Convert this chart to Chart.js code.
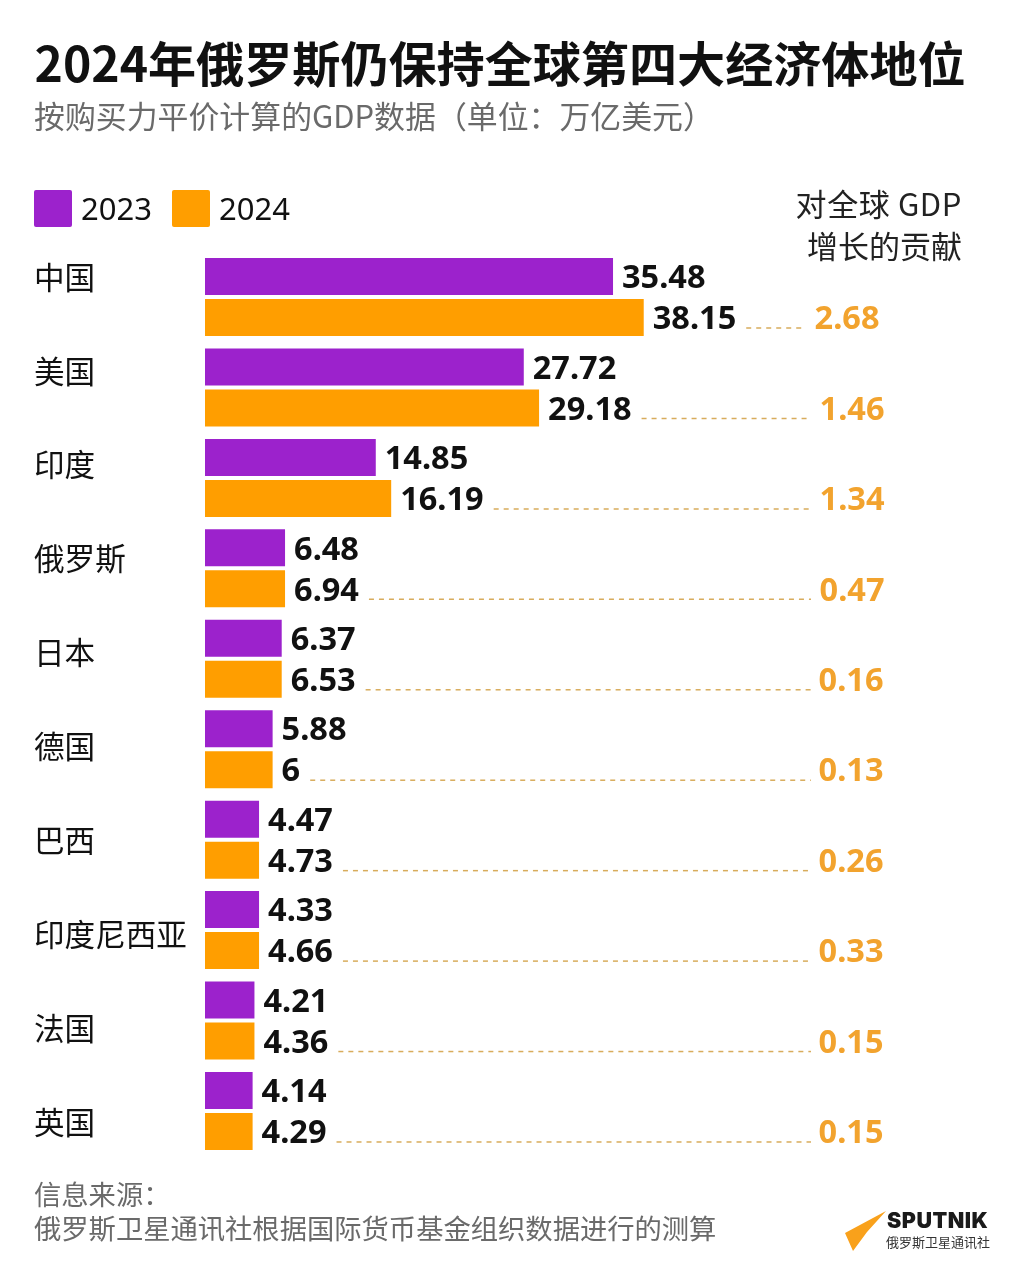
<!DOCTYPE html>
<html lang="zh">
<head>
<meta charset="utf-8">
<title>2024年俄罗斯仍保持全球第四大经济体地位</title>
<script src="https://cdn.jsdelivr.net/npm/chart.js@4"></script>
<style>
    html, body { margin: 0; padding: 0; background: #fff; }
    canvas { display: block; }
</style>
</head>
<body>
<canvas id="gdpChart" width="1024" height="1280"></canvas>
<script>
const countries = ['中国', '美国', '印度', '俄罗斯', '日本', '德国', '巴西', '印度尼西亚', '法国', '英国'];
// printed numbers
const labels2023 = ['35.48', '27.72', '14.85', '6.48', '6.37', '5.88', '4.47', '4.33', '4.21', '4.14'];
const labels2024 = ['38.15', '29.18', '16.19', '6.94', '6.53', '6', '4.73', '4.66', '4.36', '4.29'];
const contribution = ['2.68', '1.46', '1.34', '0.47', '0.16', '0.13', '0.26', '0.33', '0.15', '0.15'];
// bar lengths as drawn in the picture, the small bars do not follow the printed numbers exactly
const bars2023 = [35.48, 27.72, 14.85, 6.96, 6.67, 5.88, 4.7, 4.7, 4.3, 4.14];
const bars2024 = [38.15, 29.05, 16.19, 6.96, 6.67, 5.88, 4.7, 4.7, 4.3, 4.14];

const PURPLE = '#9C22CC';
const ORANGE = '#FF9E00';
const CJK = '"Noto Sans CJK SC", "Noto Sans", sans-serif';
const NUM = '"Noto Sans", "Open Sans", sans-serif';

function put(ctx, text, x, y, font, color, align, spacing) {
    ctx.font = font;
    ctx.fillStyle = color;
    ctx.textAlign = align || 'left';
    ctx.textBaseline = 'middle';
    ctx.letterSpacing = spacing || '0px';
    ctx.fillText(text, x, y);
    ctx.letterSpacing = '0px';
}

// everything that is not a bar: titles, legend, row names, value labels, leaders, logo
const annotations = {
    id: 'annotations',
    afterDatasetsDraw(chart) {
        const ctx = chart.ctx;
        ctx.save();

        put(ctx, '2024年俄罗斯仍保持全球第四大经济体地位', 34.5, 64, 'bold 48.1px ' + CJK, '#111');
        put(ctx, '按购买力平价计算的GDP数据（单位：万亿美元）', 34, 116, '30.9px ' + CJK, '#6a6a6a');

        // legend
        chart.data.datasets.forEach(function (ds, i) {
            const x = i === 0 ? 34 : 172;
            ctx.fillStyle = ds.backgroundColor;
            ctx.beginPath();
            ctx.roundRect(x, 190, 38, 37, 2);
            ctx.fill();
            put(ctx, ds.label, x + 47, 211, '31px ' + NUM, '#111');
        });

        put(ctx, '对全球 GDP', 962, 204, '31px ' + CJK, '#222', 'right', '0.6px');
        put(ctx, '增长的贡献', 962, 246, '31px ' + CJK, '#222', 'right');

        // row names sit on their own spacing, slightly wider than the bars
        countries.forEach(function (name, i) {
            put(ctx, name, 34, 277 + i * 93.9, '30.6px ' + CJK, '#111');
        });

        const meta23 = chart.getDatasetMeta(0).data;
        const meta24 = chart.getDatasetMeta(1).data;
        const valueFont = 'bold 32.5px ' + NUM;
        countries.forEach(function (name, i) {
            const a = meta23[i], b = meta24[i];
            put(ctx, labels2023[i], a.x + 9, a.y + 2.5, valueFont, '#111');
            put(ctx, labels2024[i], b.x + 9, b.y + 2.5, valueFont, '#111');

            const textEnd = b.x + 9 + ctx.measureText(labels2024[i]).width;
            const shift = i === 0 ? 5 : (i > 3 ? 1 : 0);
            put(ctx, contribution[i], 884.5 - shift, b.y + 2.5, valueFont, '#F2A32E', 'right');

            ctx.strokeStyle = '#D8AC5C';
            ctx.lineWidth = 1.5;
            ctx.setLineDash([5, 5]);
            ctx.beginPath();
            ctx.moveTo(textEnd + 10, b.y + 10.5);
            ctx.lineTo(811 - (i === 0 ? 5 : 0), b.y + 10.5);
            ctx.stroke();
            ctx.setLineDash([]);
        });

        // source
        put(ctx, '信息来源：', 34, 1195, '27.3px ' + CJK, '#6a6a6a');
        put(ctx, '俄罗斯卫星通讯社根据国际货币基金组织数据进行的测算', 34, 1229, '27.3px ' + CJK, '#6a6a6a');

        // logo
        ctx.fillStyle = '#F9A11B';
        ctx.beginPath();
        ctx.moveTo(886, 1211);
        ctx.lineTo(845, 1233);
        ctx.lineTo(853, 1251);
        ctx.lineTo(867, 1232);
        ctx.closePath();
        ctx.fill();
        put(ctx, 'SPUTNIK', 887, 1222, '900 21.5px "Inter", "Liberation Sans", sans-serif', '#1a1a1a', 'left', '0.5px');
        put(ctx, '俄罗斯卫星通讯社', 886, 1242, '13px ' + CJK, '#333');

        ctx.restore();
    }
};

new Chart(document.getElementById('gdpChart').getContext('2d'), {
    type: 'bar',
    data: {
        labels: countries,
        datasets: [
            { label: '2023', data: bars2023, backgroundColor: PURPLE },
            { label: '2024', data: bars2024, backgroundColor: ORANGE }
        ]
    },
    options: {
        indexAxis: 'y',
        responsive: false,
        animation: false,
        devicePixelRatio: 1,
        categoryPercentage: 0.9067,
        barPercentage: 0.902,
        layout: { padding: { left: 205, top: 251.8, right: 129, bottom: 123.8 } },
        scales: {
            x: { display: false, min: 0, max: 60 },
            y: { display: false }
        },
        plugins: {
            legend: { display: false },
            tooltip: { enabled: false }
        }
    },
    plugins: [annotations]
});
</script>
</body>
</html>
